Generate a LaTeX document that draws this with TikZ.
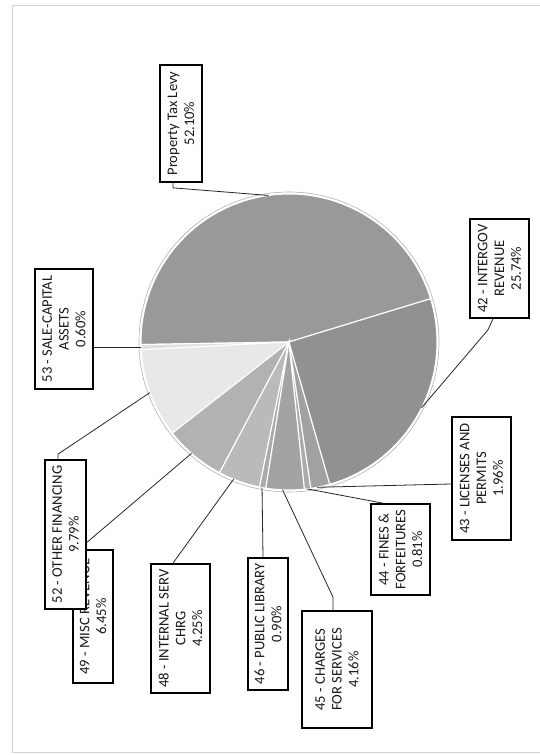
\documentclass[tikz,border=0pt]{standalone}
\usepackage{fontspec}
\setmainfont{Carlito}
\begin{document}
\begin{tikzpicture}
  [x=1pt,y=1pt,
   lbl/.style={draw,line width=1.7pt,fill=white,rotate=90,align=center,inner sep=1pt,
     font=\fontsize{14.6}{16.8}\selectfont,text=black!90},
   lead/.style={line width=.8pt,black!85}]
  \useasboundingbox (0,0) rectangle (540,755);
  \draw[black!18,line width=.8pt] (540,750) -- (12,750) -- (12,3) -- (540,3);
  \coordinate (C) at (289,413);

  % pie slices
  \foreach \a/\b/\col in {17/181/black!40,181/183/black!12,183/218/black!9,218/242/black!30,
    242/258.5/black!27,258.5/261/black!33,261/276/black!36,276/278.5/black!33,
    278.5/286/black!37,286/377/black!43}
    \fill[\col,draw=white,line width=1.1pt] (C) -- ++(\a:148) arc (\a:\b:148) -- cycle;
  \draw[black!30,line width=.6pt] (C) circle (150);

  % points on the rim
  \foreach \n/\a in {e1/98,e53/182,e52/200,e49/228.8,e48/248,e46/259.5,
    e45/267.5,e44/277,e43/281,e42/333.6}
    \path (C) ++(\a:148) coordinate (\n);

  \node[lbl,minimum width=117pt,minimum height=42pt] (ptl) at (181,631.5) {Property Tax Levy\\52.10\%};
  \node[lbl,minimum width=99pt,minimum height=59pt] (s42) at (499.5,486.5) {42 - INTERGOV\\REVENUE\\25.74\%};
  \node[lbl,minimum width=123pt,minimum height=59pt] (s43) at (481.5,276.5) {43 - LICENSES AND\\PERMITS\\1.96\%};
  \node[lbl,minimum width=91pt,minimum height=59pt] (s44) at (400.5,205.5) {44 - FINES \&\\FORFEITURES\\0.81\%};
  \node[lbl,minimum width=117pt,minimum height=70pt] (s45) at (337,85.5) {45 - CHARGES\\FOR SERVICES\\4.16\%};
  \node[lbl,minimum width=132pt,minimum height=40pt] (s46) at (268,131) {46 - PUBLIC LIBRARY\\0.90\%};
  \node[lbl,minimum width=129pt,minimum height=59pt] (s48) at (180.5,126.5) {48 - INTERNAL SERV\\CHRG\\4.25\%};
  \node[lbl,minimum width=133pt,minimum height=40pt] (s49) at (93,138.5) {49 - MISC REVENUE\\6.45\%};
  \node[lbl,minimum width=120pt,minimum height=58pt] (s53) at (64,426) {53 - SALE-CAPITAL\\ASSETS\\0.60\%};

  \draw[lead] ([xshift=-8pt]ptl.west) -- ++(0,-5) -- (e1);
  \draw[lead] ([xshift=-6.5pt]s42.west) -- ++(-5,-11) -- (e42);
  \draw[lead] ([yshift=-5.5pt]s43.north) -- (e43);
  \draw[lead] ([xshift=-17.5pt]s44.east) -- (e44);
  \draw[lead] ([xshift=-4pt]s45.east) -- ++(0,13) -- (e45);
  \draw[lead] ([xshift=-5pt]s46.east) -- (e46);
  \draw[lead] ([xshift=-7.5pt]s48.east) -- (e48);
  \draw[lead] ([xshift=-14pt]s49.east) -- (e49);
  \draw[lead] (e53) -- (e53 -| s53.south);

  % 52 sits on top of 49
  \node[lbl,minimum width=149pt,minimum height=41pt] (s52) at (65.5,220.5) {52 - OTHER FINANCING\\9.79\%};
  \draw[lead] ([xshift=-7.5pt]s52.east) -- ++(0,5) -- (e52);
\end{tikzpicture}
\end{document}
